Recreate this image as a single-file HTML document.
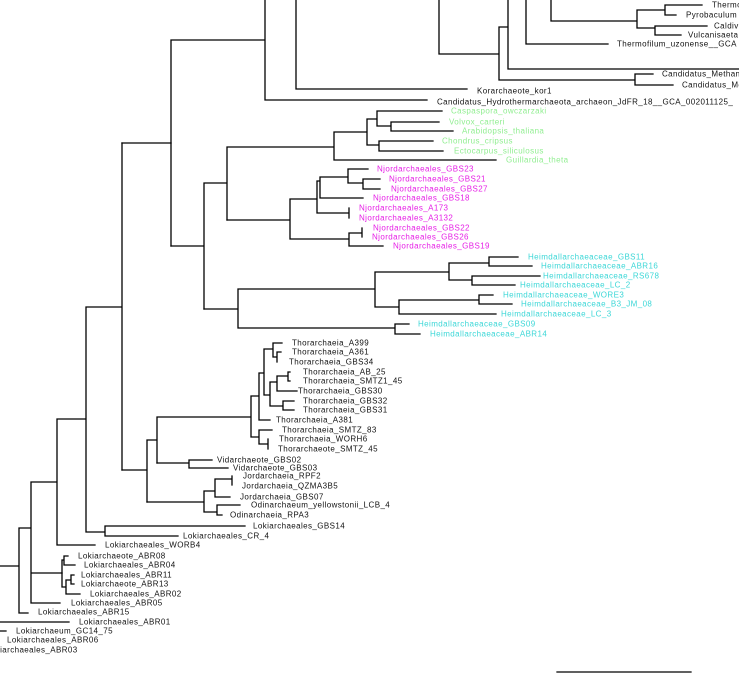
<!DOCTYPE html>
<html><head><meta charset="utf-8"><style>
html,body{margin:0;padding:0;background:#fff;width:739px;height:678px;overflow:hidden}
svg{display:block}
text{font-family:"Liberation Sans",sans-serif;font-size:8px;letter-spacing:0.4px;dominant-baseline:central;fill:#111}
.g{fill:#90ee90}.m{fill:#e61ee6}.c{fill:#3cd7d7}
</style></head><body>
<svg width="739" height="678" viewBox="0 0 739 678">
<g stroke="#000" stroke-width="1.3" fill="none" stroke-linecap="square">
<path d="M171 40V246M171 40H265M265 0V100M265 100H427M296 0V89M296 89H467M439 0V54M439 54H499M499 27V80M499 27H508M508 0V69M508 69H739M526 0V44M526 44H608M551 0V21M551 21H637M637 10V28M637 10H665M665 5V15M665 5H702M665 15H676M637 28H655M655 26V35M655 26H707M655 35H681M499 80H635M635 74V85M635 74H653M635 85H673"/>
<path d="M122 143H171M171 246H204M204 183V309M204 183H227M227 147V220M227 147H334M334 132V160M334 132H367M367 119V145M367 119H377M377 111V126M377 111H442M377 126H391M391 122V131M391 122H439M391 131H453M367 145H379M379 141V151M379 141H433M379 151H443M334 160H496"/>
<path d="M227 220H290M290 199V239M290 199H317M317 181V213M317 181H320M320 177V198M320 177H348M348 169V183M348 169H368M348 183H363M363 179V189M363 179H380M363 189H380M320 198H363M317 213H349M349 208V218M290 239H349M349 233V246M349 233H362M362 228V237M349 246H383"/>
<path d="M204 309H238M238 289V328M238 289H375M375 272V307M375 272H449M449 263V280M449 263H489M489 257V266M489 257H518M489 266H532M449 280H472M472 276V285M472 276H540M472 285H515M375 307H399M399 300V314M399 300H479M479 295V304M479 295H493M479 304H512M399 314H496M238 328H395M395 324V334M395 324H409M395 334H420"/>
<path d="M122 143V470M86 307H122M86 307V532M86 532H105M105 526V536M105 526H245M105 536H178M57 419H86M57 419V545M57 545H95M31 482H57M31 482V603M19 528H31M19 528V613M19 613H28M0 566H19M31 603H60M31 573H62"/>
<path d="M122 470H147M147 440V502M147 440H157M157 417V463M157 417H251M251 396V437M251 396H259M259 373V420M259 373H264M264 349V395M264 349H273M273 343V357M273 343H282M273 357H277M277 352V362M277 352H281M264 395H270M270 382V406M270 382H277M277 376V391M277 376H288M288 372V381M288 372H290M288 381H290M277 391H297M270 406H283M283 401V410M283 401H294M283 410H294M259 420H270M251 437H259M259 430V444M259 430H272M259 444H268M268 439V449"/>
<path d="M157 463H189M189 460V468M189 460H212M189 468H228M147 502H204M204 491V512M204 491H215M215 479V497M215 479H232M232 476V485M215 497H230M204 512H217M217 505V515M217 505H240M217 515H222"/>
<path d="M62 560V587M62 560H64M64 556V565M64 556H68M64 565H75M62 587H66M66 580V594M66 580H71M71 575V584M71 575H74M71 584H74M66 594H80M0 622H69M0 631H6M557 672H691"/>
</g>
<text x="712" y="5">Thermo</text>
<text x="686" y="15">Pyrobaculum</text>
<text x="714" y="26">Caldivirga</text>
<text x="688" y="35">Vulcanisaeta</text>
<text x="617" y="44">Thermofilum_uzonense__GCA</text>
<text x="662" y="74">Candidatus_Methanomethylicus</text>
<text x="682" y="85">Candidatus_Methano</text>
<text x="477" y="91">Korarchaeote_kor1</text>
<text x="437" y="102">Candidatus_Hydrothermarchaeota_archaeon_JdFR_18__GCA_002011125_</text>
<text class="g" x="451" y="111">Caspaspora_owczarzaki</text>
<text class="g" x="449" y="122">Volvox_carteri</text>
<text class="g" x="462" y="131">Arabidopsis_thaliana</text>
<text class="g" x="442" y="141">Chondrus_cripsus</text>
<text class="g" x="454" y="151">Ectocarpus_siliculosus</text>
<text class="g" x="506" y="160">Guillardia_theta</text>
<text class="m" x="377" y="169">Njordarchaeales_GBS23</text>
<text class="m" x="389" y="179">Njordarchaeales_GBS21</text>
<text class="m" x="391" y="189">Njordarchaeales_GBS27</text>
<text class="m" x="373" y="198">Njordarchaeales_GBS18</text>
<text class="m" x="359" y="208">Njordarchaeales_A173</text>
<text class="m" x="359" y="218">Njordarchaeales_A3132</text>
<text class="m" x="373" y="228">Njordarchaeales_GBS22</text>
<text class="m" x="372" y="237">Njordarchaeales_GBS26</text>
<text class="m" x="393" y="246">Njordarchaeales_GBS19</text>
<text class="c" x="528" y="257">Heimdallarchaeaceae_GBS11</text>
<text class="c" x="541" y="266">Heimdallarchaeaceae_ABR16</text>
<text class="c" x="543" y="276">Heimdallarchaeaceae_RS678</text>
<text class="c" x="520" y="285">Heimdallarchaeaceae_LC_2</text>
<text class="c" x="503" y="295">Heimdallarchaeaceae_WORE3</text>
<text class="c" x="521" y="304">Heimdallarchaeaceae_B3_JM_08</text>
<text class="c" x="501" y="314">Heimdallarchaeaceae_LC_3</text>
<text class="c" x="418" y="324">Heimdallarchaeaceae_GBS09</text>
<text class="c" x="430" y="334">Heimdallarchaeaceae_ABR14</text>
<text x="292" y="343">Thorarchaeia_A399</text>
<text x="292" y="352">Thorarchaeia_A361</text>
<text x="289" y="362">Thorarchaeia_GBS34</text>
<text x="303" y="372">Thorarchaeia_AB_25</text>
<text x="303" y="381">Thorarchaeia_SMTZ1_45</text>
<text x="298" y="391">Thorarchaeia_GBS30</text>
<text x="303" y="401">Thorarchaeia_GBS32</text>
<text x="303" y="410">Thorarchaeia_GBS31</text>
<text x="276" y="420">Thorarchaeia_A381</text>
<text x="282" y="430">Thorarchaeia_SMTZ_83</text>
<text x="279" y="439">Thorarchaeia_WORH6</text>
<text x="278" y="449">Thorarchaeote_SMTZ_45</text>
<text x="217" y="460">Vidarchaeote_GBS02</text>
<text x="233" y="468">Vidarchaeote_GBS03</text>
<text x="243" y="476">Jordarchaeia_RPF2</text>
<text x="242" y="486">Jordarchaeia_QZMA3B5</text>
<text x="240" y="497">Jordarchaeia_GBS07</text>
<text x="251" y="505">Odinarchaeum_yellowstonii_LCB_4</text>
<text x="230" y="515">Odinarchaeia_RPA3</text>
<text x="253" y="526">Lokiarchaeales_GBS14</text>
<text x="183" y="536">Lokiarchaeales_CR_4</text>
<text x="105" y="545">Lokiarchaeales_WORB4</text>
<text x="78" y="556">Lokiarchaeote_ABR08</text>
<text x="84" y="565">Lokiarchaeales_ABR04</text>
<text x="81" y="575">Lokiarchaeales_ABR11</text>
<text x="81" y="584">Lokiarchaeote_ABR13</text>
<text x="90" y="594">Lokiarchaeales_ABR02</text>
<text x="71" y="603">Lokiarchaeales_ABR05</text>
<text x="38" y="612">Lokiarchaeales_ABR15</text>
<text x="79" y="622">Lokiarchaeales_ABR01</text>
<text x="16" y="631">Lokiarchaeum_GC14_75</text>
<text x="7" y="640">Lokiarchaeales_ABR06</text>
<text x="-14" y="650">Lokiarchaeales_ABR03</text>
</svg>
</body></html>
